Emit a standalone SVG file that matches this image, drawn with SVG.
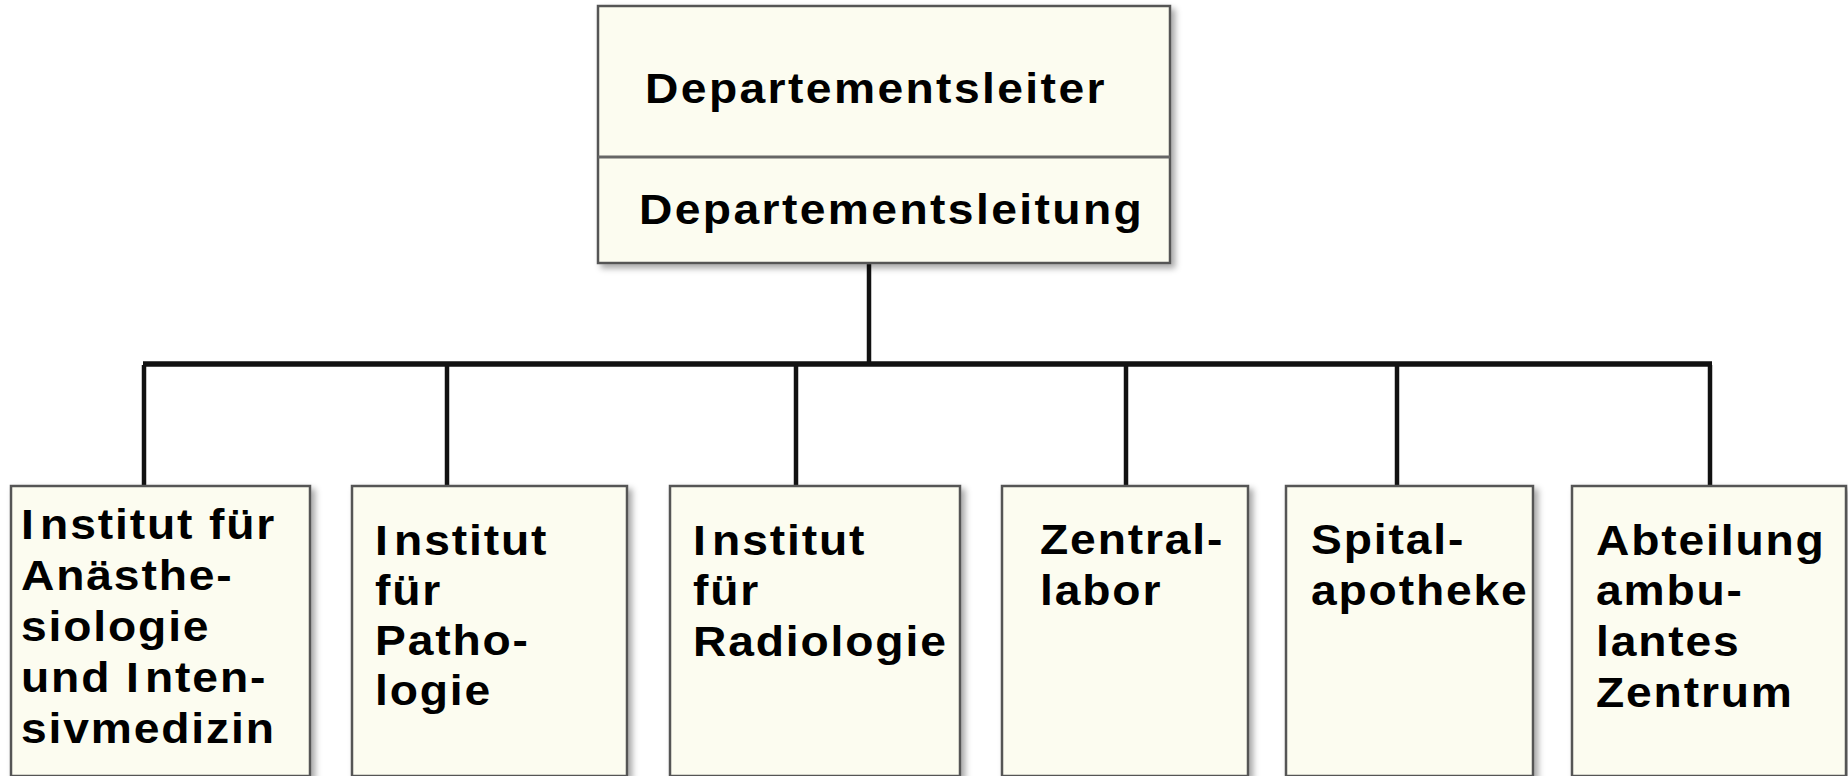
<svg xmlns="http://www.w3.org/2000/svg" width="1848" height="776" viewBox="0 0 1848 776">
<defs>
<filter id="sh" x="-10%" y="-10%" width="130%" height="130%">
<feDropShadow dx="4" dy="4" stdDeviation="3" flood-color="#000" flood-opacity="0.35"/>
</filter>
<style>
.box{fill:#fcfcf0;stroke:#555;stroke-width:2.5;filter:url(#sh)}
.t{font-family:"Liberation Sans",Arial,sans-serif;font-weight:bold;font-size:42px;letter-spacing:1.7px;fill:#000}
.tt{letter-spacing:2.2px}
.c{stroke:#111;stroke-width:4.5;fill:none}
</style>
</defs>
<rect width="1848" height="776" fill="#fff"/>
<g id="connectors">
<line class="c" x1="869" y1="263" x2="869" y2="365"/>
<line class="c" x1="143" y1="364" x2="1712" y2="364" style="stroke-width:5.5"/>
<line class="c" x1="144" y1="365" x2="144" y2="486"/>
<line class="c" x1="447" y1="365" x2="447" y2="486"/>
<line class="c" x1="796" y1="365" x2="796" y2="486"/>
<line class="c" x1="1126" y1="365" x2="1126" y2="486"/>
<line class="c" x1="1397" y1="365" x2="1397" y2="486"/>
<line class="c" x1="1710" y1="365" x2="1710" y2="486"/>
</g>
<g id="top">
<rect class="box" x="598" y="6" width="572" height="257"/>
<line x1="598" y1="157" x2="1170" y2="157" stroke="#666" stroke-width="3"/>
<g transform="scale(1.1 1)">
<text class="t tt" x="586.4" y="103">Departementsleiter</text>
<text class="t tt" x="580.9" y="224">Departementsleitung</text>
</g>
</g>
<g id="n1">
<rect class="box" x="11" y="486" width="299" height="290"/>
<g transform="scale(1.1 1)">
<text class="t" x="19.1" y="539">I<tspan dx="4">nstitut für</tspan></text>
<text class="t" x="19.1" y="590">Anästhe-</text>
<text class="t" x="19.1" y="641">siologie</text>
<text class="t" x="19.1" y="692">und I<tspan dx="4">nten-</tspan></text>
<text class="t" x="19.1" y="743">sivmedizin</text>
</g>
</g>
<g id="n2">
<rect class="box" x="352" y="486" width="275" height="290"/>
<g transform="scale(1.1 1)">
<text class="t" x="340.9" y="555">I<tspan dx="4">nstitut</tspan></text>
<text class="t" x="340.9" y="605">für</text>
<text class="t" x="340.9" y="655">Patho-</text>
<text class="t" x="340.9" y="705">logie</text>
</g>
</g>
<g id="n3">
<rect class="box" x="670" y="486" width="290" height="290"/>
<g transform="scale(1.1 1)">
<text class="t" x="630" y="555">I<tspan dx="4">nstitut</tspan></text>
<text class="t" x="630" y="605">für</text>
<text class="t" x="630" y="656">Radiologie</text>
</g>
</g>
<g id="n4">
<rect class="box" x="1002" y="486" width="246" height="290"/>
<g transform="scale(1.1 1)">
<text class="t" x="945.5" y="554">Zentral-</text>
<text class="t" x="945.5" y="605">labor</text>
</g>
</g>
<g id="n5">
<rect class="box" x="1286" y="486" width="247" height="290"/>
<g transform="scale(1.1 1)">
<text class="t" x="1191.8" y="554">Spital-</text>
<text class="t" x="1191.8" y="605">apotheke</text>
</g>
</g>
<g id="n6">
<rect class="box" x="1572" y="486" width="274" height="290"/>
<g transform="scale(1.1 1)">
<text class="t" x="1450.9" y="555">Abteilung</text>
<text class="t" x="1450.9" y="605">ambu-</text>
<text class="t" x="1450.9" y="656">lantes</text>
<text class="t" x="1450.9" y="707">Zentrum</text>
</g>
</g>
</svg>
